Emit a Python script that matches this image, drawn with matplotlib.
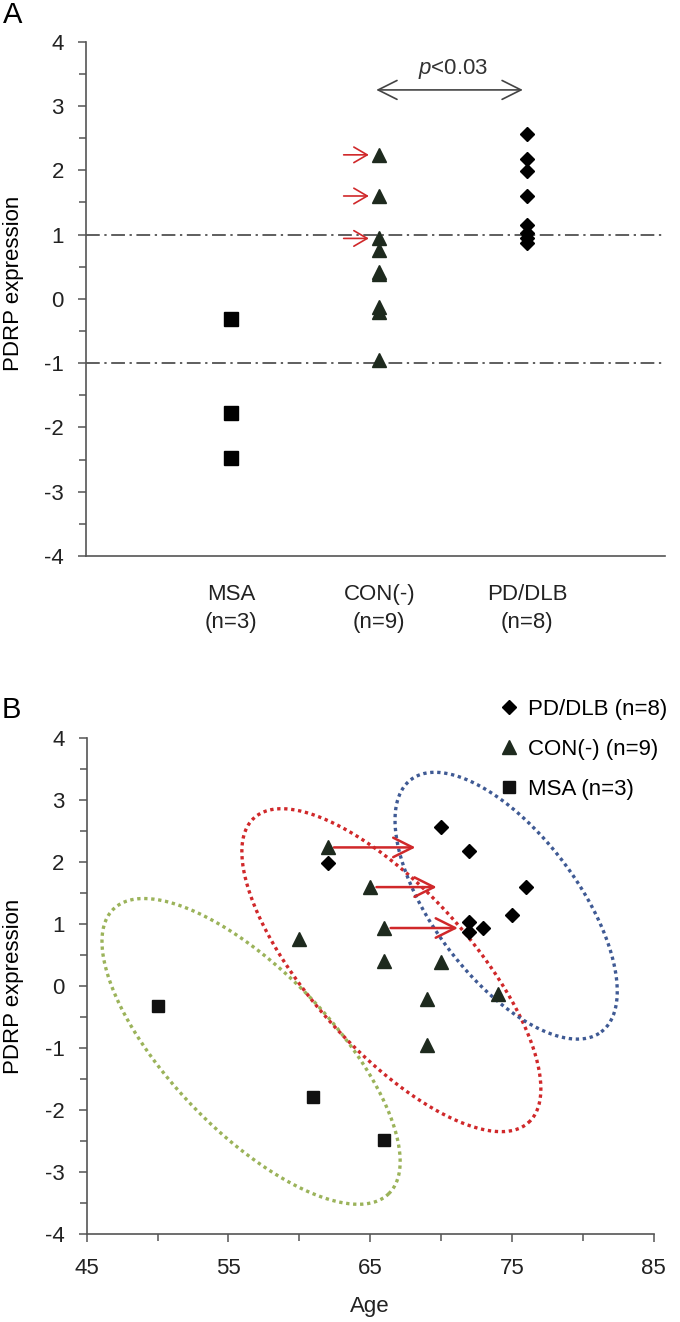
import numpy as np
import matplotlib
matplotlib.use("Agg")
import matplotlib.pyplot as plt
from matplotlib.ticker import MultipleLocator

plt.rcParams['font.family'] = ['Liberation Sans', 'DejaVu Sans']
plt.rcParams['mathtext.fontset'] = 'custom'
plt.rcParams['mathtext.rm'] = 'Liberation Sans'
plt.rcParams['mathtext.it'] = 'Liberation Sans:italic'
plt.rcParams['axes.unicode_minus'] = False

# data
groups = ["MSA\n(n=3)", "CON(-)\n(n=9)", "PD/DLB\n(n=8)"]
legend_labels = ["PD/DLB (n=8)", "CON(-) (n=9)", "MSA (n=3)"]

msa_age = [50, 61, 66]
msa_pdrp = [-0.32, -1.78, -2.48]

con_age = [62, 65, 66, 60, 66, 70, 69, 74, 69]
con_pdrp = [2.24, 1.60, 0.94, 0.76, 0.41, 0.39, -0.21, -0.12, -0.95]

pd_age = [70, 72, 62, 76, 75, 72, 73, 72]
pd_pdrp = [2.57, 2.18, 1.99, 1.60, 1.15, 1.03, 0.94, 0.87]

# the three CON(-) cases that later converted (index into con lists) and age at conversion
conv_idx = [0, 1, 2]
conv_age = [68.2, 69.7, 71.2]

cutoffs = [1, -1]
p_text = r"$p$<0.03"

age_ticks = [45, 55, 65, 75, 85]
age_minor = [50, 60, 70, 80]

# cluster ellipses: centre (age, pdrp), semi axes in px, angle in deg
ell_centre = [(56.6, -1.05), (66.5, 0.26), (74.6, 1.30)]
ell_axes = [(198, 80), (205, 80), (158, 72)]
ell_angle = [-46, -48, -53]
ell_color = ["#9bb35a", "#d0282a", "#3f5a94"]

RED = "#d0282a"
TRI = "#1e2a1e"
SPINE = "#555555"
FS = 16

fig = plt.figure(figsize=(6.8, 13.22), dpi=100)


def style_axes(ax):
    for s in ["top", "right"]:
        ax.spines[s].set_visible(False)
    for s in ["left", "bottom"]:
        ax.spines[s].set_color(SPINE)
        ax.spines[s].set_linewidth(1.2)
    ax.yaxis.set_major_locator(MultipleLocator(1))
    ax.yaxis.set_minor_locator(MultipleLocator(0.5))
    ax.tick_params(axis='y', which='both', direction='out', color=SPINE, width=1.1,
                   labelsize=FS, labelcolor='#222222', pad=10)
    ax.tick_params(axis='y', which='major', length=6)
    ax.tick_params(axis='y', which='minor', length=5)


# ---- panel A
axA = fig.add_axes([86 / 680, 1 - 556 / 1322, 579 / 680, 514.3 / 1322])
style_axes(axA)
axA.set_xlim(0.02, 3.93)
axA.set_ylim(-4, 4)

axA.plot([1] * len(msa_pdrp), msa_pdrp, 's', ms=9.6, color='black', ls='none')
axA.plot([2] * len(con_pdrp), con_pdrp, '^', ms=9.6, color=TRI, ls='none')
axA.plot([3] * len(pd_pdrp), pd_pdrp, 'D', ms=7.3, color='black', ls='none')

for c in cutoffs:
    axA.axhline(c, color='#333333', lw=1.1, ls=(0, (9, 3, 1.5, 3)), zorder=0)

for i in conv_idx:
    axA.annotate("", xy=(1.93, con_pdrp[i]), xytext=(1.76, con_pdrp[i]),
                 arrowprops=dict(arrowstyle='->, head_length=0.6, head_width=0.35', color=RED, lw=1.2,
                                 mutation_scale=16, shrinkA=0, shrinkB=0))

axA.annotate("", xy=(1.98, 3.25), xytext=(2.97, 3.25),
             arrowprops=dict(arrowstyle='<->, head_length=0.8, head_width=0.4', color='#444444', lw=1.2,
                             mutation_scale=17, shrinkA=0, shrinkB=0))
axA.text(2.5, 3.57, p_text, ha='center', va='center', fontsize=FS, color='#333333')

axA.set_xticks([1, 2, 3])
axA.set_xticklabels(groups, linespacing=1.45)
axA.tick_params(axis='x', length=0, labelsize=FS, labelcolor='#222222', pad=20)
axA.set_ylabel("PDRP expression", fontsize=FS)
axA.yaxis.set_label_coords((24 - 86) / 579, 0.53)

# ---- panel B
axB = fig.add_axes([86.7 / 680, 1 - 1234.3 / 1322, 566.8 / 680, 496 / 1322])
style_axes(axB)
axB.set_xlim(45, 85)
axB.set_ylim(-4, 4)
axB.set_xticks(age_ticks)
axB.set_xticks(age_minor, minor=True)
axB.tick_params(axis='x', which='both', direction='out', color=SPINE, width=1.1,
                labelsize=FS, labelcolor='#222222', pad=11)
axB.tick_params(axis='x', which='major', length=6)
axB.tick_params(axis='x', which='minor', length=5)

axB.plot(pd_age, pd_pdrp, 'D', ms=7.6, color='black', ls='none', label=legend_labels[0], zorder=4)
axB.plot(con_age, con_pdrp, '^', ms=9.6, color=TRI, ls='none', label=legend_labels[1], zorder=4)
axB.plot(msa_age, msa_pdrp, 's', ms=9, color='#111111', ls='none', label=legend_labels[2], zorder=4)

# ellipses built in screen pixels, then mapped back to data
fig.canvas.draw()
t = np.linspace(0, 2 * np.pi, 400)
for (cx, cy), (a, b), ang, col in zip(ell_centre, ell_axes, ell_angle, ell_color):
    th = np.deg2rad(ang)
    ex = a * np.cos(t) * np.cos(th) - b * np.sin(t) * np.sin(th)
    ey = a * np.cos(t) * np.sin(th) + b * np.sin(t) * np.cos(th)
    c0 = axB.transData.transform((cx, cy))
    pts = axB.transData.inverted().transform(np.column_stack([c0[0] + ex, c0[1] + ey]))
    axB.plot(pts[:, 0], pts[:, 1], color=col, lw=2.4, ls=(0, (1, 1.1)), zorder=2)

for i, x_end in zip(conv_idx, conv_age):
    axB.annotate("", xy=(x_end, con_pdrp[i]), xytext=(con_age[i] + 0.45, con_pdrp[i]),
                 arrowprops=dict(arrowstyle='->, head_length=0.7, head_width=0.35', color=RED, lw=1.8,
                                 mutation_scale=20, shrinkA=0, shrinkB=0), zorder=3)

axB.set_xlabel("Age", fontsize=FS, labelpad=12, color='#222222')
axB.set_ylabel("PDRP expression", fontsize=FS)
axB.yaxis.set_label_coords((24 - 86.7) / 566.8, 0.5)

axB.legend(loc='upper left', bbox_to_anchor=(0.71, 1.097), frameon=False, fontsize=FS,
           handlelength=1.0, handletextpad=0.35, labelspacing=0.85, borderaxespad=0)

fig.text(13 / 680, 1 - 15 / 1322, "A", fontsize=21, ha='center', va='center')
fig.text(11 / 680, 1 - 710 / 1322, "B", fontsize=21, ha='center', va='center')

fig.savefig("out.png", dpi=100)
